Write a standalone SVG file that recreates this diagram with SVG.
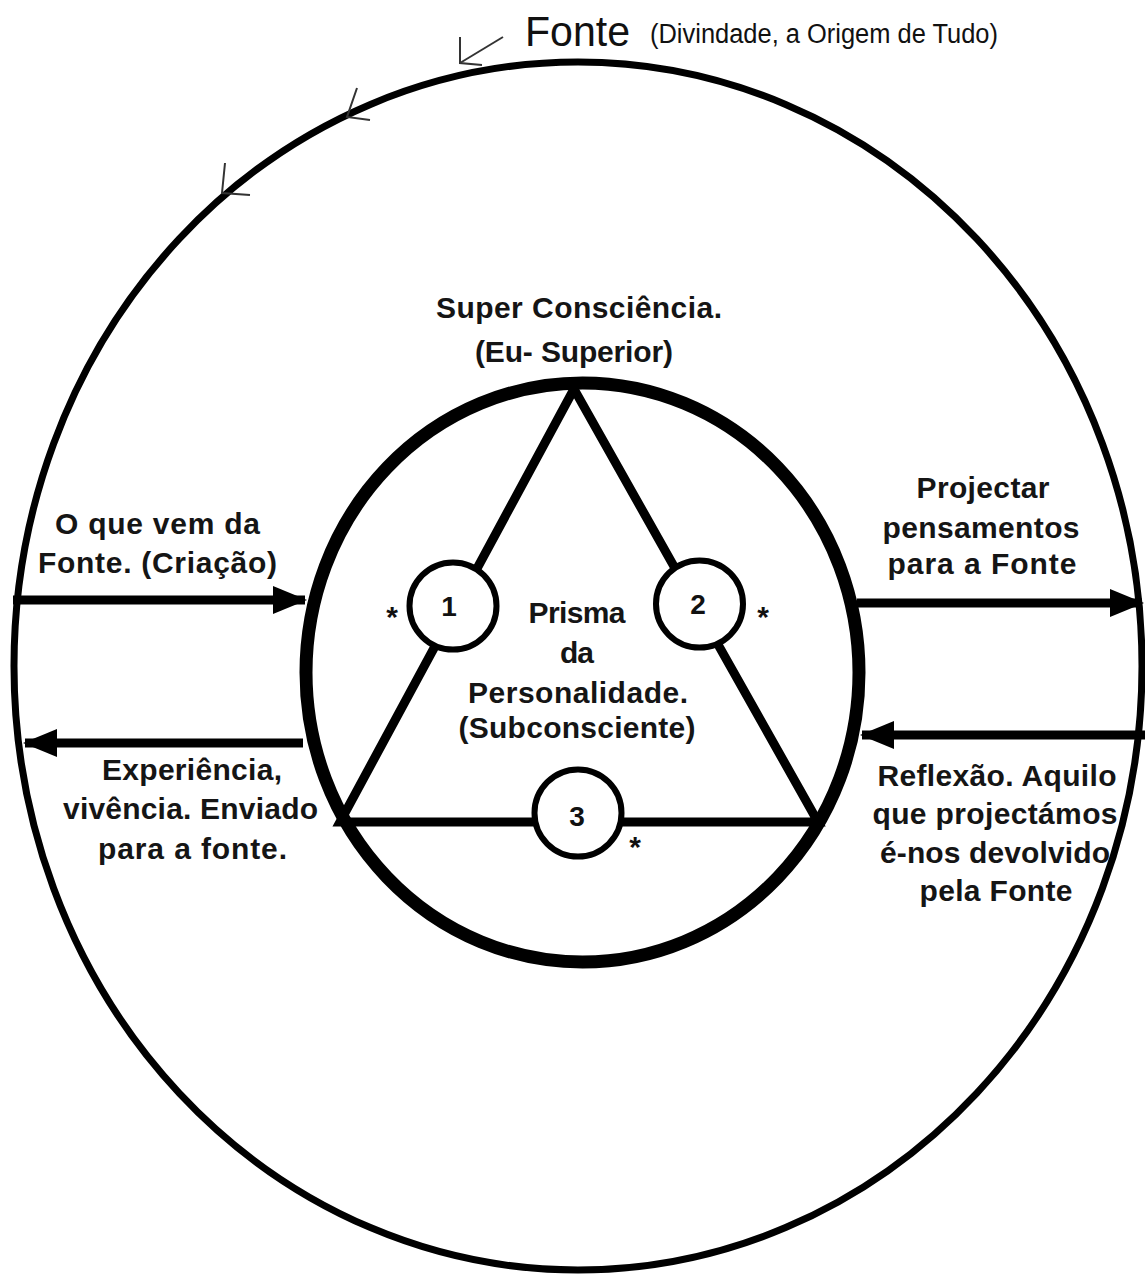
<svg xmlns="http://www.w3.org/2000/svg" width="1145" height="1274" viewBox="0 0 1145 1274">
<style>
.lbl{font-family:"Liberation Sans",Arial,sans-serif;font-size:30px;font-weight:bold;fill:#151515;text-anchor:middle}
.num{font-family:"Liberation Sans",Arial,sans-serif;font-size:28px;font-weight:bold;fill:#111;text-anchor:middle}
.ast{font-family:"Liberation Sans",Arial,sans-serif;font-size:30px;font-weight:bold;fill:#111;text-anchor:middle}
.ring{fill:none;stroke:#000}
.small{fill:#fff;stroke:#000;stroke-width:6}
.tri{stroke:#000;stroke-width:9;fill:none;stroke-linecap:round}
.arr{stroke:#000;stroke-width:9;fill:none}
.thin{stroke:#333;stroke-width:2;fill:none}
</style>
<defs>
<marker id="ah" markerUnits="userSpaceOnUse" markerWidth="34" markerHeight="28" refX="32" refY="14" orient="auto">
<path d="M0,0 L34,14 L0,28 Z" fill="#000"/>
</marker>
</defs>
<rect width="1145" height="1274" fill="#fff"/>
<g id="fonte">
<ellipse class="ring" cx="578" cy="666" rx="564" ry="604" stroke-width="7"/>
<text x="525" y="46" font-family="'Liberation Sans',Arial,sans-serif" font-size="42" fill="#111" textLength="105" lengthAdjust="spacingAndGlyphs">Fonte</text>
<text x="650" y="43" font-family="'Liberation Sans',Arial,sans-serif" font-size="27" fill="#111" textLength="348" lengthAdjust="spacingAndGlyphs">(Divindade, a Origem de Tudo)</text>
</g>
<g id="super-consciencia">
<ellipse class="ring" cx="582.5" cy="672.5" rx="276.5" ry="289.5" stroke-width="13"/>
<text class="lbl" x="579" y="318" textLength="286">Super Consciência.</text>
<text class="lbl" x="574" y="362" textLength="198">(Eu- Superior)</text>
</g>
<g id="prisma">
<path class="tri" d="M574,389 L340,822 L818,822 Z"/>
<text class="lbl" x="577" y="623" textLength="97">Prisma</text>
<text class="lbl" x="577" y="663" textLength="34">da</text>
<text class="lbl" x="578" y="703" textLength="220">Personalidade.</text>
<text class="lbl" x="577" y="738" textLength="237">(Subconsciente)</text>
</g>
<g id="n1">
<circle class="small" cx="453" cy="606" r="43.5"/>
<text class="num" x="449" y="616">1</text>
<text class="ast" x="392" y="627">*</text>
</g>
<g id="n2">
<circle class="small" cx="699.5" cy="604" r="43.5"/>
<text class="num" x="698" y="614">2</text>
<text class="ast" x="763" y="627">*</text>
</g>
<g id="n3">
<circle class="small" cx="578" cy="813" r="43.5"/>
<text class="num" x="577" y="826">3</text>
<text class="ast" x="635" y="857">*</text>
</g>
<g id="connectors">
<line class="arr" x1="13" y1="600" x2="305" y2="600" marker-end="url(#ah)"/>
<line class="arr" x1="303" y1="743" x2="25" y2="743" marker-end="url(#ah)"/>
<line class="arr" x1="857" y1="603" x2="1142" y2="603" marker-end="url(#ah)"/>
<line class="arr" x1="1145" y1="735" x2="862" y2="735" marker-end="url(#ah)"/>
<polyline class="thin" points="460,37 460,63 482,65"/>
<line class="thin" x1="460" y1="63" x2="503" y2="37"/>
<polyline class="thin" points="357,88 347,117 370,120"/>
<polyline class="thin" points="225,163 222,193 250,195"/>
</g>
<g id="labels">
<text class="lbl" x="157.5" y="534" textLength="205">O que vem da</text>
<text class="lbl" x="157.5" y="573" textLength="239">Fonte. (Criação)</text>
<text class="lbl" x="192" y="780" textLength="180">Experiência,</text>
<text class="lbl" x="190.5" y="819" textLength="255">vivência. Enviado</text>
<text class="lbl" x="192.5" y="859" textLength="189">para a fonte.</text>
<text class="lbl" x="983" y="498" textLength="133">Projectar</text>
<text class="lbl" x="981" y="538" textLength="197">pensamentos</text>
<text class="lbl" x="982" y="574" textLength="189">para a Fonte</text>
<text class="lbl" x="997" y="786" textLength="239">Reflexão. Aquilo</text>
<text class="lbl" x="995" y="824" textLength="245">que projectámos</text>
<text class="lbl" x="995" y="863" textLength="230">é-nos devolvido</text>
<text class="lbl" x="996" y="901" textLength="153">pela Fonte</text>
</g>
</svg>
